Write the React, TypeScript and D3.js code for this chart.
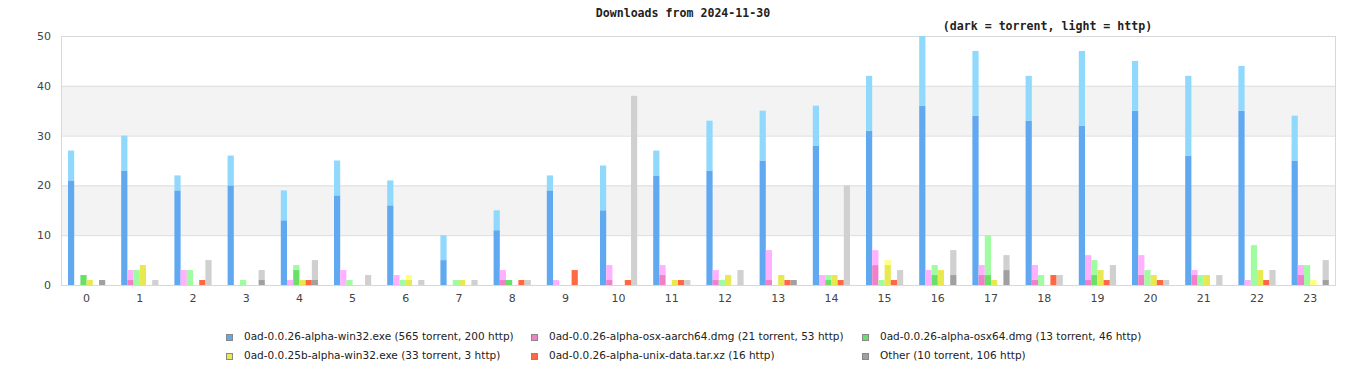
import React from "react";
import * as d3 from "d3";

const hours = d3.range(24).map(String);
const seriesNames = [
  "0ad-0.0.26-alpha-win32.exe (565 torrent, 200 http)",
  "0ad-0.0.26-alpha-osx-aarch64.dmg (21 torrent, 53 http)",
  "0ad-0.0.26-alpha-osx64.dmg (13 torrent, 46 http)",
  "0ad-0.0.25b-alpha-win32.exe (33 torrent, 3 http)",
  "0ad-0.0.26-alpha-unix-data.tar.xz (16 http)",
  "Other (10 torrent, 106 http)",
];
const darkColors = ["#60a8f0", "#f080c8", "#68e068", "#e8e850", "#ff6840", "#a0a0a0"];
const lightColors = ["#90d8fc", "#ffb0ff", "#a0fca0", "#ffff80", "#ff6840", "#d0d0d0"];

const win32Torrent = [21, 23, 19, 20, 13, 18, 16, 5, 11, 19, 15, 22, 23, 25, 28, 31, 36, 34, 33, 32, 35, 26, 35, 25];
const win32Http = [6, 7, 3, 6, 6, 7, 5, 5, 4, 3, 9, 5, 10, 10, 8, 11, 14, 13, 9, 15, 10, 16, 9, 9];
const aarch64Torrent = [0, 1, 0, 0, 0, 0, 0, 0, 1, 0, 1, 2, 1, 1, 0, 4, 0, 2, 1, 1, 2, 2, 0, 2];
const aarch64Http = [0, 2, 3, 0, 1, 3, 2, 0, 2, 1, 3, 2, 2, 6, 2, 3, 3, 2, 3, 5, 4, 1, 1, 2];
const osx64Torrent = [2, 0, 0, 0, 3, 0, 0, 0, 1, 0, 0, 0, 0, 0, 1, 0, 2, 2, 0, 2, 0, 0, 0, 0];
const osx64Http = [0, 3, 3, 1, 1, 1, 1, 1, 0, 0, 0, 0, 1, 0, 1, 1, 2, 8, 2, 3, 3, 2, 8, 4];
const b25Torrent = [1, 4, 0, 0, 1, 0, 1, 1, 0, 0, 0, 1, 2, 2, 2, 4, 3, 1, 0, 3, 2, 2, 3, 0];
const b25Http = [0, 0, 0, 0, 0, 0, 1, 0, 0, 0, 0, 0, 0, 0, 0, 1, 0, 0, 0, 0, 0, 0, 0, 1];
const unixTorrent = [0, 0, 0, 0, 0, 0, 0, 0, 0, 0, 0, 0, 0, 0, 0, 0, 0, 0, 0, 0, 0, 0, 0, 0];
const unixHttp = [0, 0, 1, 0, 1, 0, 0, 0, 1, 3, 1, 1, 0, 1, 1, 1, 0, 0, 2, 1, 1, 0, 1, 0];
const otherTorrent = [1, 0, 0, 1, 1, 0, 0, 0, 0, 0, 0, 0, 0, 1, 0, 0, 2, 3, 0, 0, 0, 0, 0, 1];
const otherHttp = [0, 1, 5, 2, 4, 2, 1, 1, 1, 0, 38, 1, 3, 0, 20, 3, 5, 3, 2, 4, 1, 2, 3, 4];

const torrentData = [win32Torrent, aarch64Torrent, osx64Torrent, b25Torrent, unixTorrent, otherTorrent];
const httpData = [win32Http, aarch64Http, osx64Http, b25Http, unixHttp, otherHttp];
const yTicks = [0, 10, 20, 30, 40, 50];

export default function App() {
  const W = 1366, H = 380;
  const left = 61, right = 1336, top = 36, bottom = 285;
  const x = d3.scaleBand<string>().domain(hours).range([left, left + 24 * 53.2]).padding(0);
  const inner = d3.scaleBand<number>().domain(d3.range(6)).range([7, 44.2]).padding(0);
  const y = d3.scaleLinear().domain([0, 50]).range([bottom, top]);
  const bw = inner.bandwidth();

  const bars: React.ReactNode[] = [];
  hours.forEach((h, hi) => {
    for (let s = 0; s < 6; s++) {
      const t = torrentData[s][hi];
      const hp = httpData[s][hi];
      const bx = (x(h) as number) + (inner(s) as number);
      if (t > 0) {
        bars.push(<rect key={`t${hi}-${s}`} x={bx} y={y(t)} width={bw} height={y(0) - y(t)} fill={darkColors[s]} />);
      }
      if (hp > 0) {
        bars.push(<rect key={`h${hi}-${s}`} x={bx} y={y(t + hp)} width={bw} height={y(t) - y(t + hp)} fill={lightColors[s]} />);
      }
    }
  });

  const legendCols = [226.5, 531.5, 862.5];
  const legendRows = [334.5, 353.5];

  return (
    <svg width={W} height={H} style={{ position: "absolute", left: 0, top: 0 }}>
      <rect x={0} y={0} width={W} height={H} fill="#fff" />
      {[10, 30].map((v) => (
        <rect key={v} x={left} y={y(v + 10)} width={right - left} height={y(v) - y(v + 10)} fill="#f3f3f3" />
      ))}
      {yTicks.map((v) => (
        <line key={v} x1={left} x2={right} y1={y(v) + 0.5} y2={y(v) + 0.5} stroke="#dcdcdc" />
      ))}
      <rect x={left + 0.5} y={top + 0.5} width={right - left - 1} height={bottom - top} fill="none" stroke="#d8d8d8" />
      {bars}
      {yTicks.map((v) => (
        <text key={v} x={51} y={y(v) + 4} textAnchor="end" fontFamily="DejaVu Sans" fontSize={11} fill="#444">
          {v}
        </text>
      ))}
      {hours.map((h) => (
        <text key={h} x={(x(h) as number) + 25.6} y={302} textAnchor="middle" fontFamily="DejaVu Sans" fontSize={11} fill="#444">
          {h}
        </text>
      ))}
      <text x={683} y={17} textAnchor="middle" fontFamily="DejaVu Sans Mono" fontWeight="bold" fontSize={11.6} fill="#222">
        Downloads from 2024-11-30
      </text>
      <text x={1047.5} y={29.5} textAnchor="middle" fontFamily="DejaVu Sans Mono" fontWeight="bold" fontSize={11.6} fill="#222">
        (dark = torrent, light = http)
      </text>
      {seriesNames.map((name, i) => {
        const col = i % 3, row = Math.floor(i / 3);
        const lx = legendCols[col], ly = legendRows[row];
        return (
          <g key={name}>
            <rect x={lx} y={ly} width={6} height={6} fill={darkColors[i]} stroke="#888" strokeWidth={1} />
            <text x={lx + 17.5} y={ly + 5.5} fontFamily="DejaVu Sans" fontSize={10.5} fill="#222">
              {name}
            </text>
          </g>
        );
      })}
    </svg>
  );
}
